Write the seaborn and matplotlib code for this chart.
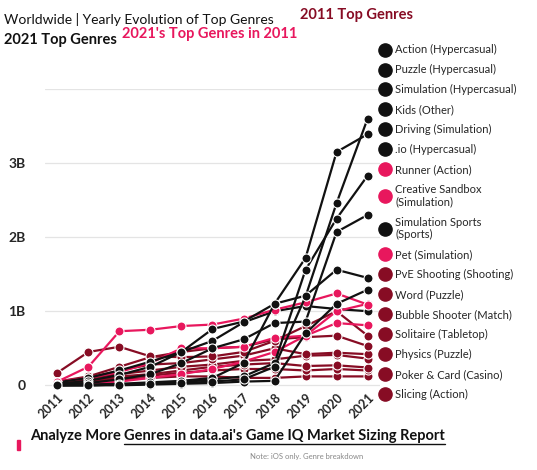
import numpy as np
import pandas as pd
import matplotlib
matplotlib.use("Agg")
import matplotlib.pyplot as plt
from matplotlib.lines import Line2D
from matplotlib.patches import Rectangle
import seaborn as sns

# Data (billions of downloads)
years = list(range(2011, 2022))

genres = [
    "Action (Hypercasual)", "Puzzle (Hypercasual)", "Simulation (Hypercasual)",
    "Kids (Other)", "Driving (Simulation)", ".io (Hypercasual)", "Runner (Action)",
    "Creative Sandbox\n(Simulation)", "Simulation Sports\n(Sports)", "Pet (Simulation)",
    "PvE Shooting (Shooting)", "Word (Puzzle)", "Bubble Shooter (Match)",
    "Solitaire (Tabletop)", "Physics (Puzzle)", "Poker & Card (Casino)", "Slicing (Action)",
]
groups = ["top2021"] * 6 + ["in2011"] * 2 + ["top2021"] + ["in2011"] + ["top2011"] * 7

action_hc = [0.0, 0.0, 0.01, 0.02, 0.03, 0.05, 0.08, 0.25, 1.20, 2.46, 3.60]
puzzle_hc = [0.0, 0.01, 0.02, 0.04, 0.06, 0.10, 0.30, 1.10, 1.72, 3.15, 3.39]
simulation_hc = [0.0, 0.0, 0.01, 0.02, 0.04, 0.08, 0.12, 0.30, 1.56, 2.25, 2.83]
kids = [0.01, 0.03, 0.08, 0.15, 0.30, 0.50, 0.62, 0.84, 0.86, 2.07, 2.30]
driving = [0.02, 0.06, 0.14, 0.25, 0.45, 0.76, 0.86, 1.10, 1.21, 1.56, 1.45]
io_hc = [0.0, 0.0, 0.0, 0.01, 0.02, 0.03, 0.05, 0.06, 0.70, 1.10, 1.29]
runner = [0.05, 0.25, 0.73, 0.75, 0.80, 0.82, 0.90, 1.02, 1.12, 1.24, 1.09]
creative_sandbox = [0.0, 0.02, 0.05, 0.10, 0.15, 0.22, 0.32, 0.45, 0.67, 1.00, 1.10]
simulation_sports = [0.04, 0.10, 0.20, 0.32, 0.45, 0.60, 0.85, 1.00, 1.07, 1.03, 1.00]
pet = [0.05, 0.10, 0.18, 0.30, 0.50, 0.50, 0.52, 0.64, 0.67, 0.84, 0.81]
pve_shooting = [0.17, 0.45, 0.52, 0.39, 0.38, 0.39, 0.45, 0.60, 0.80, 1.00, 0.67]
word = [0.05, 0.12, 0.25, 0.38, 0.45, 0.50, 0.52, 0.62, 0.65, 0.67, 0.53]
bubble_shooter = [0.05, 0.10, 0.20, 0.28, 0.30, 0.35, 0.40, 0.50, 0.42, 0.44, 0.42]
solitaire = [0.02, 0.10, 0.15, 0.20, 0.25, 0.28, 0.33, 0.35, 0.40, 0.41, 0.36]
physics = [0.03, 0.08, 0.12, 0.15, 0.20, 0.25, 0.28, 0.30, 0.26, 0.27, 0.24]
poker_card = [0.04, 0.07, 0.10, 0.13, 0.17, 0.20, 0.22, 0.22, 0.20, 0.22, 0.20]
slicing = [0.02, 0.05, 0.08, 0.10, 0.12, 0.12, 0.10, 0.10, 0.12, 0.12, 0.12]

series = [action_hc, puzzle_hc, simulation_hc, kids, driving, io_hc, runner,
          creative_sandbox, simulation_sports, pet, pve_shooting, word,
          bubble_shooter, solitaire, physics, poker_card, slicing]

y_ticks = [0, 1, 2, 3, 4]
y_ticklabels = ["0", "1B", "2B", "3B", ""]

group_colors = {"top2021": "#111111", "in2011": "#E8175D", "top2011": "#870C24"}

rows = []
for g, grp, vals in zip(genres, groups, series):
    for yr, v in zip(years, vals):
        rows.append({"genre": g, "group": grp, "year": yr, "value": v})
df = pd.DataFrame(rows)
palette = {g: group_colors[grp] for g, grp in zip(genres, groups)}

sns.set_theme(style="white")
plt.rcParams["font.family"] = ["Lato", "DejaVu Sans"]

W, H = 537, 470
fig = plt.figure(figsize=(W / 100, H / 100), dpi=100)
fig.patch.set_facecolor("white")
ax = fig.add_axes([45 / W, 1 - 389 / H, 335 / W, 300 / H])

sns.lineplot(data=df, x="year", y="value", hue="genre", palette=palette,
             hue_order=genres[::-1], marker="o", markersize=6.5,
             markeredgecolor="white", markeredgewidth=0.8, linewidth=1.6,
             legend=False, ax=ax)

ax.set_xlim(2010.6, 2021.4)
ax.set_ylim(-0.05, 4.0)
ax.set_yticks(y_ticks)
ax.set_yticklabels(y_ticklabels, fontsize=10, fontweight="bold")
ax.set_xticks(years)
ax.set_xticklabels([str(y) for y in years], rotation=45, fontsize=9,
                   fontweight="bold", ha="right", rotation_mode="anchor")
ax.tick_params(axis="y", length=0, pad=14)
ax.tick_params(axis="x", length=0, pad=2)
ax.grid(axis="y", color="#e4e4e4", linewidth=0.9)
ax.set_xlabel("")
ax.set_ylabel("")
for s in ax.spines.values():
    s.set_visible(False)

# legend: markers only
handles = [Line2D([], [], linestyle="none", marker="o", markersize=9.5,
                  markerfacecolor=palette[g], markeredgecolor=palette[g])
           for g in genres]
fig.legend(handles, genres, loc="upper left", bbox_to_anchor=(374 / W, 1 - 40 / H),
           frameon=False, fontsize=8, handletextpad=0.3, labelspacing=0.8,
           borderaxespad=0, handlelength=1.2)

# title texts
fig.text(4 / W, 1 - 20 / H, "Worldwide | Yearly Evolution of Top Genres",
         fontsize=10, va="center", ha="left", color="#111111")
fig.text(4 / W, 1 - 40 / H, "2021 Top Genres", fontsize=10.5, fontweight="bold",
         va="center", ha="left", color="#111111")
fig.text(122 / W, 1 - 34 / H, "2021's Top Genres in 2011", fontsize=10.5,
         fontweight="bold", va="center", ha="left", color=group_colors["in2011"])
fig.text(300 / W, 1 - 15 / H, "2011 Top Genres", fontsize=10.5, fontweight="bold",
         va="center", ha="left", color=group_colors["top2011"])

# footer
fig.add_artist(Rectangle((17 / W, 1 - 450 / H), 3 / W, 10 / H,
                         transform=fig.transFigure, color=group_colors["in2011"]))
t1 = fig.text(30 / W, 1 - 440 / H, "Analyze More ", fontsize=10.5,
              fontweight="bold", va="baseline", ha="left", color="#111111")
fig.canvas.draw()
r = fig.canvas.get_renderer()
bb = t1.get_window_extent(r)
x2 = bb.x1 / W
t2 = fig.text(x2, 1 - 440 / H, "Genres in data.ai's Game IQ Market Sizing Report",
              fontsize=10.5, fontweight="bold", va="baseline", ha="left", color="#111111")
bb2 = t2.get_window_extent(r)
fig.add_artist(Line2D([bb2.x0 / W, bb2.x1 / W], [(bb2.y0 - 1) / H] * 2,
                      transform=fig.transFigure, color="#111111", linewidth=1))
fig.text(250 / W, 1 - 456 / H, "Note: iOS only. Genre breakdown", fontsize=5.5,
         color="#888888", va="center", ha="left")

fig.savefig("out.png", dpi=100)
